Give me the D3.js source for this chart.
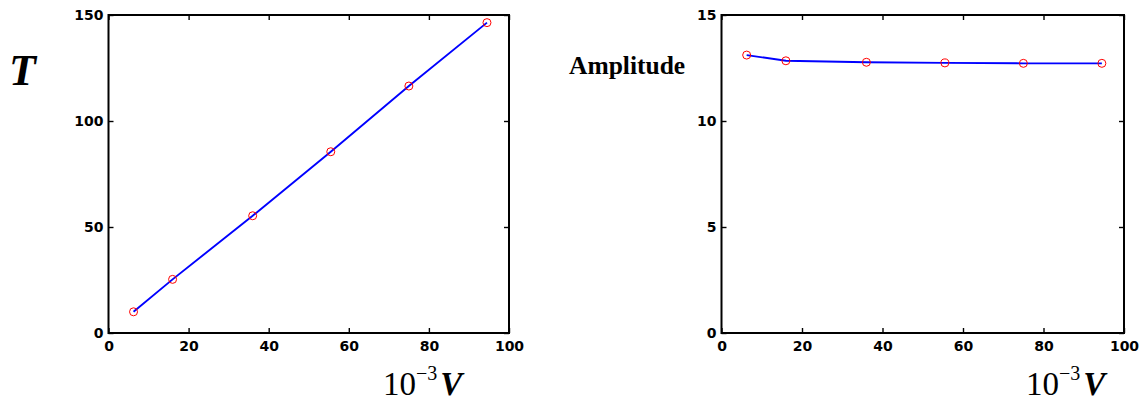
<!DOCTYPE html>
<html>
<head>
<meta charset="utf-8">
<script src="https://cdn.jsdelivr.net/npm/d3@7"></script>
<style>
  html, body { margin: 0; padding: 0; background: #fff; }
  svg { display: block; }
  .tick text { font-family: "DejaVu Sans", sans-serif; font-weight: bold; font-size: 14px; fill: #000; }
</style>
</head>
<body>
<svg id="chart" width="1144" height="403"></svg>
<script>
// ---- data ----
const volume = [6.25, 16, 36, 55.5, 75, 94.5];          // 10^-3 V
const period = [10, 25.3, 55.3, 85.5, 116.5, 146.4];    // T
const amplitude = [13.11, 12.84, 12.77, 12.74, 12.72, 12.72];
const xTicks = [0, 20, 40, 60, 80, 100];
const yTicksT = [0, 50, 100, 150];
const yTicksA = [0, 5, 10, 15];

const svg = d3.select("#chart");

function panel(cfg) {
  const x = d3.scaleLinear().domain([0, 100]).range([cfg.x0, cfg.x1]);
  const y = d3.scaleLinear().domain(cfg.yDomain).range([cfg.yb, cfg.yt]);
  const g = svg.append("g");

  // box
  g.append("rect").attr("x", cfg.x0).attr("y", cfg.yt)
    .attr("width", cfg.x1 - cfg.x0).attr("height", cfg.yb - cfg.yt)
    .attr("fill", "none").attr("stroke", "#000").attr("stroke-width", 2);

  // axes with inward ticks
  const ax = (axis) => (sel) => { sel.call(axis); sel.select(".domain").remove(); sel.selectAll(".tick line").attr("stroke", "#000").attr("stroke-width", 1.4); };
  g.append("g").attr("transform", `translate(0,${cfg.yb})`)
    .call(ax(d3.axisBottom(x).tickValues(xTicks).tickSize(-5).tickPadding(8).tickFormat(d3.format("d"))));
  g.append("g").attr("transform", `translate(0,${cfg.yt})`)
    .call(ax(d3.axisTop(x).tickValues(xTicks).tickSize(-5).tickFormat("")));
  g.append("g").attr("transform", `translate(${cfg.x0},0)`)
    .call(ax(d3.axisLeft(y).tickValues(cfg.yTicks).tickSize(-5).tickPadding(5).tickFormat(d3.format("d"))));
  g.append("g").attr("transform", `translate(${cfg.x1},0)`)
    .call(ax(d3.axisRight(y).tickValues(cfg.yTicks).tickSize(-5).tickFormat("")));

  // line
  const line = d3.line().x((d, i) => x(volume[i])).y(d => y(d));
  g.append("path").datum(cfg.values).attr("d", line)
    .attr("fill", "none").attr("stroke", "#0000ff").attr("stroke-width", 1.9);

  // markers
  g.selectAll("circle.m").data(cfg.values).join("circle")
    .attr("class", "m")
    .attr("cx", (d, i) => x(volume[i])).attr("cy", d => y(d)).attr("r", 4)
    .attr("fill", "none").attr("stroke", "#ff0000").attr("stroke-width", 1);

  // x label 10^-3 V
  const t = g.append("text").attr("x", cfg.xlabX).attr("y", 395)
    .attr("font-family", "'Liberation Serif', 'Times New Roman', serif").attr("font-size", 33).attr("fill", "#000");
  t.append("tspan").text("10");
  t.append("tspan").attr("font-size", 20).attr("dy", -15).text("\u22123");
  t.append("tspan").attr("dy", 15).attr("dx", 3).attr("font-weight", "bold").attr("font-style", "italic").text("V");
}

panel({ x0: 108.5, x1: 509, yt: 15, yb: 333, yDomain: [0, 150], yTicks: yTicksT, values: period, xlabX: 383 });
panel({ x0: 721.5, x1: 1124, yt: 15, yb: 333, yDomain: [0, 15], yTicks: yTicksA, values: amplitude, xlabX: 1026 });

// y labels
svg.append("text").attr("x", 9).attr("y", 85)
  .attr("font-family", "'Liberation Serif', 'Times New Roman', serif")
  .attr("font-size", 44).attr("font-weight", "bold").attr("font-style", "italic").text("T");
svg.append("text").attr("x", 569).attr("y", 74)
  .attr("font-family", "'Liberation Serif', 'Times New Roman', serif")
  .attr("font-size", 25.5).attr("font-weight", "bold").text("Amplitude");
</script>
</body>
</html>
